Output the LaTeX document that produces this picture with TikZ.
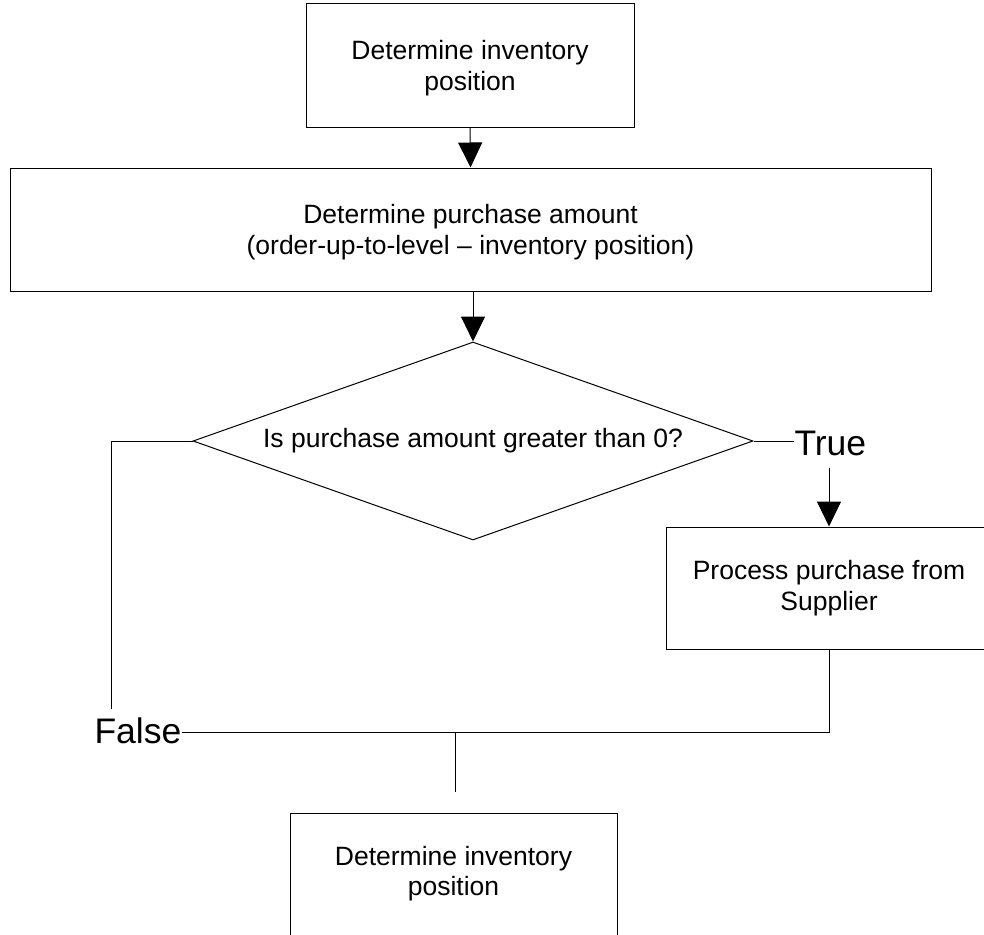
\documentclass[tikz,border=0pt]{standalone}
\usepackage{fontspec}
\setmainfont{Liberation Sans}
\usetikzlibrary{arrows.meta,shapes.geometric}

\begin{document}
\begin{tikzpicture}[x=1pt,y=-1pt,
  line width=1pt,
  bodytext/.style={font=\fontsize{26.5}{30.5}\selectfont, align=center},
  procbox/.style={draw, rectangle, bodytext, inner sep=0pt},
  decision/.style={draw, diamond, aspect=2.828, bodytext, inner sep=0pt},
  branchlabel/.style={font=\fontsize{35.5}{40}\selectfont, inner sep=0pt},
  flow/.style={-{Triangle[length=25pt,width=24pt]}},
  plain/.style={-}]

  \useasboundingbox (0,0) rectangle (984,934);
  \clip (0,0) rectangle (984,934);

  % process steps
  \node[procbox, text depth=0pt, minimum width=328pt, minimum height=123pt] (inv1) at (470,65.5)
    {Determine inventory\\position};
  \node[procbox, text depth=0pt, minimum width=921pt, minimum height=123pt] (amount) at (470.5,229.5)
    {Determine purchase amount\\(order-up-to-level -- inventory position)};
  \node[decision, minimum width=560pt, minimum height=198pt] (check) at (473,441)
    {Is purchase amount greater than 0?};
  \node[procbox, minimum width=326pt, minimum height=122pt] (purchase) at (829,588)
    {Process purchase from\\Supplier};
  \node[procbox, text depth=7.5pt, minimum width=327pt, minimum height=123pt] (inv2) at (453.5,874.5)
    {Determine inventory\\position};

  % branch labels
  \node[branchlabel, anchor=west] (yes) at (794,443) {True};
  \node[branchlabel, anchor=west] (no) at (94,731) {False};

  % joints of the connectors
  \coordinate (noend) at (111,709);
  \coordinate (merge) at (455,732);
  \coordinate (mergeend) at (455,792);

  % connectors
  \draw[flow] (inv1.south) -- (amount.north);
  \draw[flow] (amount.south -| check.north) -- (check.north);
  \draw[plain] (check.east) -- (yes.west |- check.east);
  \draw[flow, shorten <=12pt] (yes.south -| purchase.north) -- (purchase.north);
  \draw[plain] (check.west) -| (noend);
  \draw[plain] (no.east |- merge) -- (merge) -- (mergeend);
  \draw[plain] (purchase.south) |- (merge);
\end{tikzpicture}
\end{document}
